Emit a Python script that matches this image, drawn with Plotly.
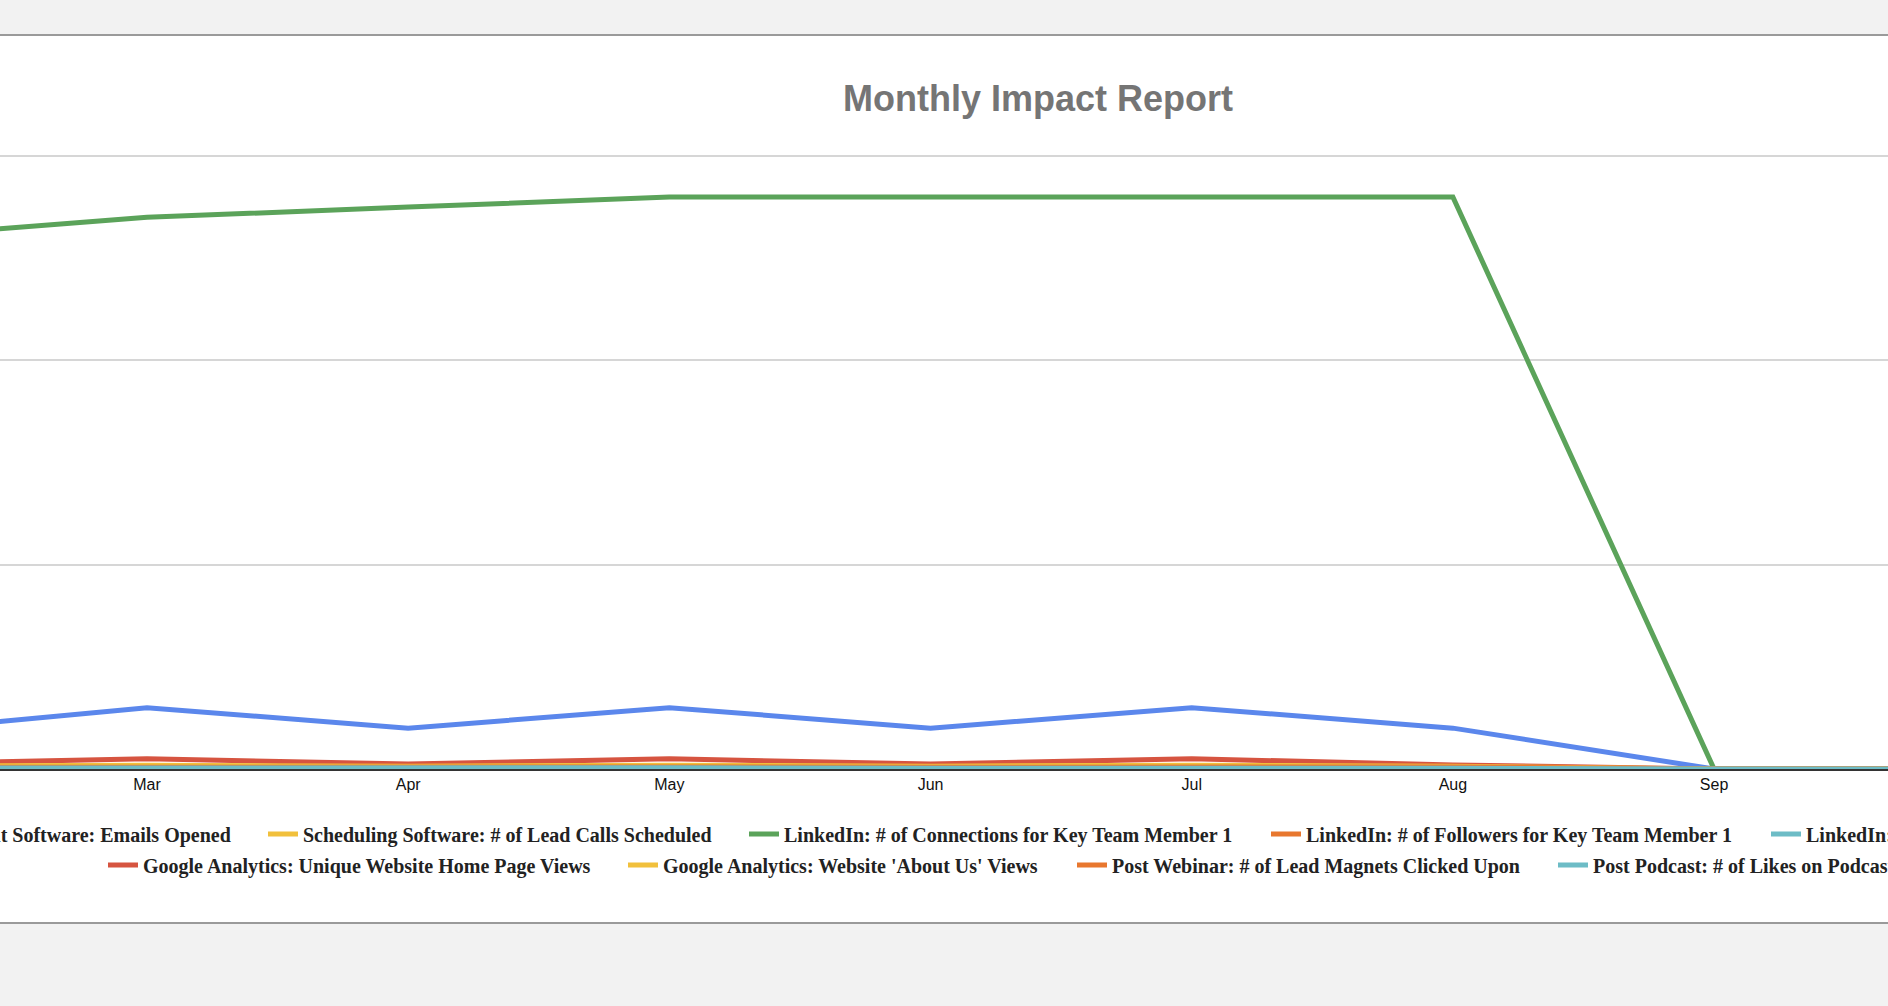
import plotly.graph_objects as go

# months on the axis (Feb and Oct sit just outside the visible window)
months = ['Feb', 'Mar', 'Apr', 'May', 'Jun', 'Jul', 'Aug', 'Sep', 'Oct']

emails_opened = [90, 150, 100, 150, 100, 150, 100, 0, 0]
lead_calls = [6, 8, 6, 8, 6, 8, 6, 0, 0]
connections_1 = [1300, 1350, 1375, 1400, 1400, 1400, 1400, 0, 0]
followers_1 = [3, 4, 3, 4, 3, 4, 4, 0, 0]
connections_2 = [2, 2, 2, 2, 2, 2, 2, 0, 0]
home_page_views = [12, 25, 12, 25, 12, 25, 10, 0, 0]
about_us_views = [7, 9, 7, 9, 7, 9, 7, 0, 0]
lead_magnets = [4, 5, 4, 5, 4, 5, 5, 0, 0]
podcast_likes = [2, 3, 2, 3, 2, 3, 2, 0, 0]

series_names = [
    'Email Management Software: Emails Opened',
    'Scheduling Software: # of Lead Calls Scheduled',
    'LinkedIn: # of Connections for Key Team Member 1',
    'LinkedIn: # of Followers for Key Team Member 1',
    'LinkedIn: # of Connections for Key Team Member 2',
    'Google Analytics: Unique Website Home Page Views',
    "Google Analytics: Website 'About Us' Views",
    'Post Webinar: # of Lead Magnets Clicked Upon',
    'Post Podcast: # of Likes on Podcast Episode',
]
series_values = [emails_opened, lead_calls, connections_1, followers_1, connections_2,
                 home_page_views, about_us_views, lead_magnets, podcast_likes]
series_colors = ['#5B87EC', '#F1C03C', '#5BA35A', '#E8772E', '#6DBCC6',
                 '#D65440', '#F1C03C', '#E8772E', '#6DBCC6']

W, H = 1888, 1006
PLOT_TOP, PLOT_BOTTOM = 154, 769
PLOT_H = PLOT_BOTTOM - PLOT_TOP

# legend item origins (px from left) and row centres (px from top)
legend_px = [-201, 263, 744, 1266, 1766, 103, 623, 1072, 1553]
legend_py = [834] * 5 + [865] * 4

fig = go.Figure()

for i, (name, vals, col) in enumerate(zip(series_names, series_values, series_colors)):
    lg = 'legend' if i == 0 else f'legend{i + 1}'
    fig.add_trace(go.Scatter(
        x=months,
        y=vals,
        mode='lines',
        name=name,
        line=dict(color=col, width=5),
        legend=lg,
    ))

legend_base = dict(
    orientation='h',
    xanchor='left',
    yanchor='middle',
    bgcolor='rgba(0,0,0,0)',
    borderwidth=0,
    font=dict(family='Liberation Serif', size=20, color='#222222', weight='bold'),
)
legends = {}
for i, (px, py) in enumerate(zip(legend_px, legend_py)):
    key = 'legend' if i == 0 else f'legend{i + 1}'
    legends[key] = dict(legend_base, x=px / W, y=(PLOT_BOTTOM - py) / PLOT_H)

fig.update_layout(
    width=W,
    height=H,
    margin=dict(l=0, r=0, t=PLOT_TOP, b=H - PLOT_BOTTOM, autoexpand=False),
    paper_bgcolor='#f2f2f2',
    plot_bgcolor='white',
    title=dict(
        text='Monthly Impact Report',
        x=1038 / W,
        xanchor='center',
        y=1 - 98 / H,
        yanchor='middle',
        font=dict(family='Liberation Sans', size=36, color='#757575', weight='bold'),
    ),
    xaxis=dict(
        range=[0.4372, 7.666],
        showgrid=False,
        zeroline=False,
        showline=True,
        linecolor='#333333',
        linewidth=2,
        ticks='',
        tickfont=dict(family='Liberation Sans', size=16, color='#111111'),
    ),
    yaxis=dict(
        range=[0, 1505],
        tickvals=[500, 1000, 1500],
        showgrid=True,
        gridcolor='#d6d6d6',
        gridwidth=1.5,
        zeroline=False,
        showticklabels=False,
        ticks='',
    ),
    showlegend=True,
    shapes=[dict(
        type='rect',
        xref='paper', yref='paper',
        x0=-0.01, x1=1.01,
        y0=(PLOT_BOTTOM - 923) / PLOT_H,
        y1=(PLOT_BOTTOM - 35) / PLOT_H,
        fillcolor='white',
        line=dict(color='#9a9a9a', width=2),
        layer='below',
    )],
    **legends,
)

fig.write_html(
    "out.html",
    config={'displayModeBar': False},
    post_script="document.body.style.margin='0';document.body.style.overflow='hidden';",
)
